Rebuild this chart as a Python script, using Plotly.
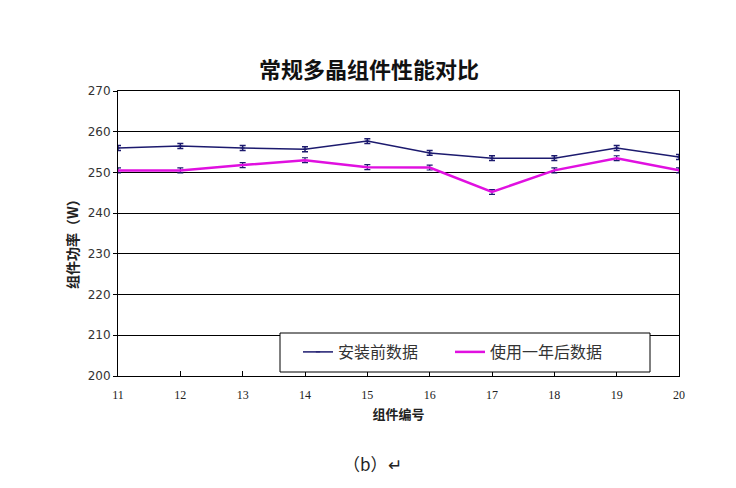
import plotly.graph_objects as go

module_ids = [11, 12, 13, 14, 15, 16, 17, 18, 19, 20]
before_install = [256.0, 256.5, 256.0, 255.7, 257.7, 254.8, 253.5, 253.5, 256.0, 253.8]
after_one_year = [250.5, 250.5, 251.8, 253.0, 251.3, 251.2, 245.2, 250.5, 253.5, 250.5]
err_before = [0.6] * 10
err_after = [0.6] * 10

NAVY = "#1c1a6e"
MAG = "#e010e0"
FONT = "Noto Sans CJK SC"

W, H = 728, 480
L, T = 110, 83
PW, PH = 561, 285
PX0, PY0 = 118, 376  # plot-area origin in screenshot pixels


def px(x):
    return (x - PX0) / PW


def py(y):
    return (PY0 - y) / PH


fig = go.Figure()
fig.add_trace(go.Scatter(
    x=module_ids, y=before_install, name="安装前数据", mode="lines+markers",
    line=dict(color=NAVY, width=1.5), marker=dict(color=NAVY, size=3, symbol="line-ew-open"),
    error_y=dict(type="data", array=err_before, color=NAVY, thickness=1.5, width=3),
))
fig.add_trace(go.Scatter(
    x=module_ids, y=after_one_year, name="使用一年后数据", mode="lines",
    line=dict(color=MAG, width=2.5),
    error_y=dict(type="data", array=err_after, color=NAVY, thickness=1.2, width=3),
))

fig.add_shape(type="rect", xref="paper", yref="paper",
              x0=px(280), x1=px(650), y0=py(372), y1=py(333),
              fillcolor="white", line=dict(color="black", width=1), layer="above")

fig.update_layout(
    width=W, height=H,
    margin=dict(l=L, r=W - L - PW, t=T, b=H - T - PH),
    paper_bgcolor="white", plot_bgcolor="white",
    font=dict(family=FONT, color="#222"),
    title=dict(text="<b>常规多晶组件性能对比</b>", x=(369 - 8) / W, xanchor="center",
               y=1 - 62 / H, yanchor="middle", font=dict(size=22, color="#111", family=FONT)),
    showlegend=True,
    legend=dict(orientation="h", x=px(298), y=py(352), xanchor="left", yanchor="middle",
                bgcolor="rgba(0,0,0,0)", borderwidth=0,
                font=dict(size=16, family=FONT, color="#333"),
                itemwidth=30, entrywidth=107),
    xaxis=dict(range=[11, 20], tickvals=module_ids, ticks="inside", ticklen=5,
               tickcolor="black", showline=True, linecolor="black", linewidth=1,
               mirror=True, showgrid=False, zeroline=False, ticklabelstandoff=8,
               tickfont=dict(family="Liberation Serif", size=12, color="#222"),
               title=dict(text="<b>组件编号</b>", font=dict(size=13, family=FONT, color="#222"), standoff=8)),
    yaxis=dict(range=[200, 270], dtick=10, ticks="outside", ticklen=4,
               tickcolor="black", showline=True, linecolor="black", linewidth=1,
               mirror=True, showgrid=True, gridcolor="black", gridwidth=1, zeroline=False,
               tickfont=dict(family="DejaVu Sans", size=12, color="#333")),
)

fig.add_annotation(text="<b>组件功率（W）</b>", xref="paper", yref="paper",
                   x=px(72), y=py(241), xanchor="center", yanchor="middle",
                   textangle=-90, showarrow=False,
                   font=dict(size=14, family=FONT, color="#222"))
fig.add_annotation(text="（b）↵", xref="paper", yref="paper",
                   x=px(372), y=py(463), xanchor="center", yanchor="middle",
                   showarrow=False,
                   font=dict(size=17, family=FONT, color="#222"))

fig.write_html("out.html")
